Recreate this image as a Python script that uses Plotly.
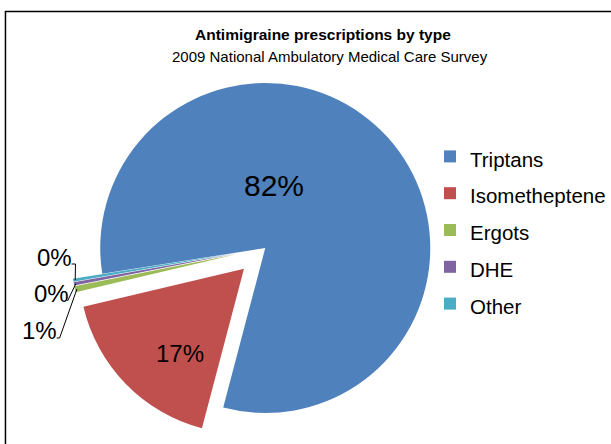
import math
import plotly.graph_objects as go

# ---- data ----
labels = ["Triptans", "Isometheptene", "Ergots", "DHE", "Other"]
values = [81.6, 17.2, 0.6, 0.3, 0.3]
colors = ["#4F81BD", "#C0504D", "#9BBB59", "#8064A2", "#4BACC6"]
pulls = [0, 0.18, 0.18, 0.18, 0.18]
title_main = "Antimigraine prescriptions by type"
title_sub = "2009 National Ambulatory Medical Care Survey"

# ---- layout geometry ----
W, H = 611, 444
ROT = 261
FONT = "Liberation Sans, Arial, Helvetica, sans-serif"
cx_px = 267
box_px = 392
cy_px = H - box_px / 2
r_px = box_px / (2 * (1 + max(pulls)))


def px2paper(x, y):
    return x / W, 1 - y / H


total = sum(values)
pct = [round(v / total * 100) for v in values]

# mid angles (clockwise from 12 o'clock)
mids = []
start = ROT
for v in values:
    span = 360 * v / total
    mids.append(start + span / 2)
    start += span


def tip(i, shrink=2):
    th = math.radians(mids[i])
    rr = (1 + pulls[i]) * r_px - shrink
    return cx_px + rr * math.sin(th), cy_px - rr * math.cos(th)


legend_labels = [f'<span style="font-size:20.5px">{l}</span>' for l in labels]

fig = go.Figure()
fig.add_trace(go.Pie(
    labels=legend_labels,
    values=values,
    marker=dict(colors=colors, line=dict(width=0)),
    pull=pulls,
    sort=False,
    direction="clockwise",
    rotation=ROT,
    textinfo="none",
    hoverinfo="percent",
    domain=dict(x=[(cx_px - box_px / 2) / W, (cx_px + box_px / 2) / W],
                y=[0, box_px / H]),
))

annotations = []
shapes = []

# title
for txt, (x, y), bold, sz in [(title_main, (325, 35), True, 15.5), (title_sub, (332, 56), False, 15)]:
    px_, py_ = px2paper(x, y)
    annotations.append(dict(
        text=f"<b>{txt}</b>" if bold else txt, x=px_, y=py_, xref="paper", yref="paper",
        showarrow=False, xanchor="center", yanchor="middle",
        font=dict(family=FONT, size=sz, color="#000")))

# inside labels
inside_pos = {0: ((276, 185), 30), 1: ((181, 353), 24)}
for i, ((x, y), sz) in inside_pos.items():
    px_, py_ = px2paper(x, y)
    annotations.append(dict(
        text=f"{pct[i]}%", x=px_, y=py_, xref="paper", yref="paper",
        showarrow=False, xanchor="center", yanchor="middle",
        font=dict(family=FONT, size=sz, color="#000")))

# outside labels with leader lines
outside = {
    4: ((55, 257), [(72, 264), (76, 264)]),
    3: ((52, 293), [(68, 301)]),
    2: ((40, 330), [(57, 338), (60, 338)]),
}
for i, ((x, y), pts) in outside.items():
    px_, py_ = px2paper(x, y)
    annotations.append(dict(
        text=f"{pct[i]}%", x=px_, y=py_, xref="paper", yref="paper",
        showarrow=False, xanchor="center", yanchor="middle",
        font=dict(family=FONT, size=24, color="#000")))
    path_pts = pts + [tip(i)]
    segs = []
    for k, (a, b) in enumerate(path_pts):
        pa, pb = px2paper(a, b)
        segs.append(("M" if k == 0 else "L") + f"{pa},{pb}")
    shapes.append(dict(type="path", xref="paper", yref="paper", path=" ".join(segs),
                       line=dict(color="#000", width=1)))

# chart border
bx0, by0 = px2paper(5.5, 11.5)
shapes.append(dict(type="rect", xref="paper", yref="paper", x0=bx0, y0=-0.2, x1=1.2, y1=by0,
                   line=dict(color="#000", width=1.5)))

fig.update_layout(
    width=W, height=H,
    margin=dict(l=0, r=0, t=0, b=0),
    paper_bgcolor="#fff", plot_bgcolor="#fff",
    font=dict(family=FONT, color="#000"),
    showlegend=True,
    legend=dict(x=433 / W, y=1 - 133 / H, xanchor="left", yanchor="top",
                font=dict(family=FONT, size=26, color="#000"),
                bgcolor="rgba(0,0,0,0)", traceorder="normal"),
    annotations=annotations,
    shapes=shapes,
)

fig.write_html("out.html")
